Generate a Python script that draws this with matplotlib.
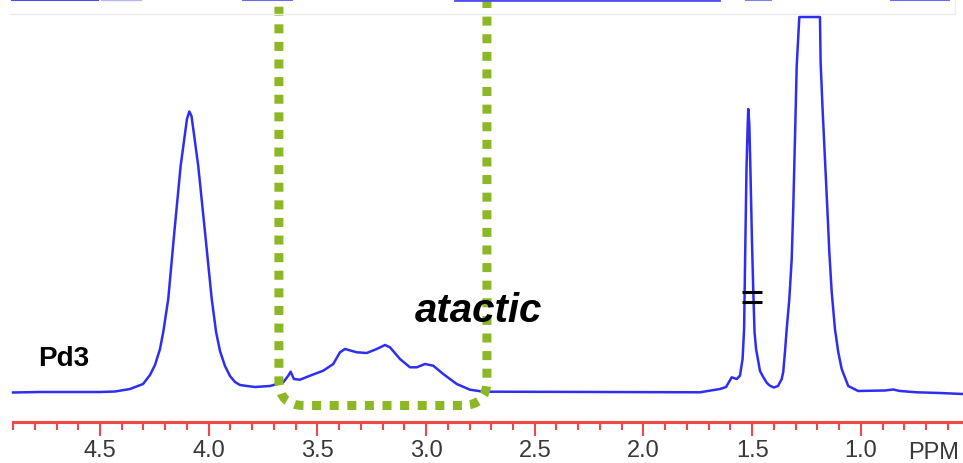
import matplotlib
matplotlib.use("Agg")
import matplotlib.pyplot as plt
from matplotlib.patches import FancyBboxPatch
from matplotlib.ticker import MultipleLocator, FormatStrFormatter
from matplotlib.lines import Line2D

plt.rcParams['font.family'] = ['Liberation Sans', 'DejaVu Sans']

# ---- spectrum data (chemical shift in ppm, intensity a.u.) ----
ppm = [4.900, 4.776, 4.638, 4.500, 4.431, 4.362, 4.302, 4.270, 4.247, 4.224,
       4.209, 4.186, 4.158, 4.129, 4.100, 4.089, 4.079, 4.048, 4.017, 3.986,
       3.966, 3.948, 3.925, 3.902, 3.879, 3.856, 3.824, 3.787, 3.718, 3.657,
       3.634, 3.623, 3.608, 3.580, 3.534, 3.473, 3.427, 3.396, 3.373, 3.319,
       3.273, 3.227, 3.189, 3.166, 3.120, 3.074, 3.043, 3.005, 2.967, 2.921,
       2.859, 2.798, 2.737, 2.660, 2.200, 1.740, 1.648, 1.620, 1.594, 1.571,
       1.556, 1.544, 1.537, 1.531, 1.526, 1.521, 1.518, 1.513, 1.508, 1.501,
       1.495, 1.489, 1.482, 1.472, 1.464, 1.449, 1.432, 1.418, 1.400, 1.381,
       1.364, 1.357, 1.349, 1.341, 1.329, 1.318, 1.311, 1.303, 1.295, 1.283,
       1.188, 1.185, 1.176, 1.165, 1.154, 1.145, 1.134, 1.119, 1.104, 1.088,
       1.058, 1.012, 0.943, 0.889, 0.852, 0.820, 0.743, 0.636, 0.530]
intensity = [0.5, 1, 1, 1, 1.5, 4, 9, 18, 28, 44,
             61, 94, 161, 227, 274, 281.5, 277, 227, 161, 94,
             61, 42, 27, 17, 11, 8, 7, 6, 7, 10.7,
             17.3, 21.3, 14, 13.3, 17.3, 22.3, 29, 40.7, 44, 40.7,
             40, 44, 48, 45.7, 34, 25.7, 25.7, 29, 27.3, 19,
             9, 3.3, 1.3, 1.3, 1, 0.7, 4, 6, 15.7, 14,
             17.3, 34, 64, 154, 224, 264, 284, 269, 224, 154,
             104, 61, 44, 32, 22, 16, 10, 7.3, 5.5, 7,
             14, 21, 41, 64, 94, 134, 184, 254, 327, 376,
             376, 331, 284, 234, 184, 141, 101, 64, 41, 24,
             7, 2, 2.3, 2.5, 3.5, 2, 0.7, 0, -1]

major_step = 0.5
minor_step = 0.1
sample_label = "Pd3"
region_label = "atactic"
unit_label = "PPM"
region_ppm = (3.677, 2.720)        # dotted highlight box (ppm)
break_ppm = (1.548, 1.454)         # "=" break mark on the 1.5 ppm peak
break_levels = [101.3, 91.3]

x_range = (4.96, 0.53)
y_range = (-70, 394)
axis_level = -29

fig = plt.figure(figsize=(9.63, 4.64), dpi=100)
ax = fig.add_axes([0, 0, 1, 1])
ax.set_xlim(*x_range)
ax.set_ylim(*y_range)

ax.plot(ppm, intensity, color='#2e2ef2', lw=1.8, solid_joinstyle='round', zorder=3)

# break marks
for lev in break_levels:
    ax.plot(break_ppm, [lev, lev], color='black', lw=2.2, solid_capstyle='butt', zorder=4)

# axis styling
for s in ['top', 'left', 'right']:
    ax.spines[s].set_visible(False)
red = '#f04848'
ax.spines['bottom'].set_position(('data', axis_level))
ax.spines['bottom'].set_bounds(x_range[1], 4.9)
ax.spines['bottom'].set_color(red)
ax.spines['bottom'].set_linewidth(2.2)
ax.xaxis.set_major_locator(MultipleLocator(major_step))
ax.xaxis.set_minor_locator(MultipleLocator(minor_step))
ax.xaxis.set_major_formatter(FormatStrFormatter('%.1f'))
ax.tick_params(axis='x', which='major', length=10, width=1.5, color=red,
               labelsize=17, labelcolor='#383838', pad=2.5, direction='out')
ax.tick_params(axis='x', which='minor', length=5.5, width=1.5, color=red, direction='out')
ax.set_yticks([])
ax.patch.set_alpha(0)

# labels
ax.text(0.783, -65, unit_label, fontsize=17, color='#383838', ha='left', va='baseline')
ax.text(4.785, 28, sample_label, fontsize=20, fontweight='bold', ha='left', va='baseline')
ax.text(2.759, 72, region_label, fontsize=29, fontweight='bold', fontstyle='italic',
        ha='center', va='baseline', zorder=7)

# dotted rounded highlight box
x0 = min(region_ppm)
w = abs(region_ppm[0] - region_ppm[1])
box = FancyBboxPatch((x0, -12.5), w, 480, boxstyle='round,pad=0,rounding_size=0.115',
                     mutation_aspect=217.4, fill=False, ec='#8cb828', lw=6.5,
                     linestyle=(0, (1.0, 0.95)), capstyle='butt', zorder=5)
ax.add_patch(box)

# remnants of the panel above (top edge)
H = 464.0
Wd = 963.0
for xa, xb, c, lw in [(12, 98, '#4a4af0', 1.5), (101, 141, '#b8b8f8', 1.0),
                      (243, 292, '#6a6af2', 1.5), (455, 719, '#5050f0', 2.0),
                      (746, 771, '#8080f4', 1.5), (891, 949, '#6a6af2', 1.5)]:
    fig.add_artist(Line2D([xa / Wd, xb / Wd], [1 - 1 / H, 1 - 1 / H], color=c, lw=lw))
fig.add_artist(Line2D([10 / Wd, 955 / Wd], [1 - 15 / H, 1 - 15 / H], color='#ececec', lw=1))
fig.add_artist(Line2D([955 / Wd, 955 / Wd], [1 - 15 / H, 1.0], color='#ececec', lw=1))

fig.savefig('out.png', dpi=100)
